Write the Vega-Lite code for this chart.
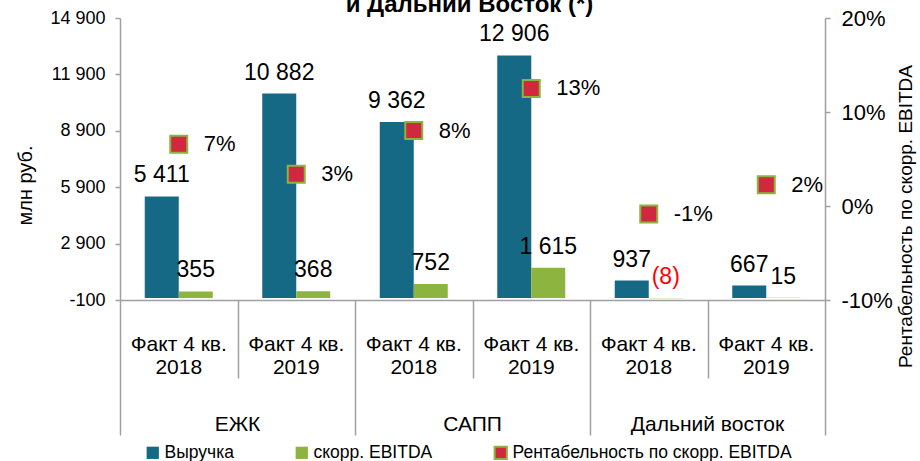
{
  "$schema": "https://vega.github.io/schema/vega-lite/v6.json",
  "autosize": {"type": "none"},
  "padding": {"left": 120, "top": 18, "right": 95, "bottom": 161},
  "width": 705,
  "height": 282,
  "config": {
    "font": "Liberation Sans",
    "view": {"stroke": null},
    "locale": {"number": {"decimal": ",", "thousands": " ", "grouping": [3], "currency": ["", ""], "minus": "-"}},
    "axis": {"grid": false, "domainColor": "#a0a0a0", "tickColor": "#a0a0a0", "labelColor": "black", "titleColor": "black", "titleFontWeight": "normal", "domainWidth": 1.5, "tickWidth": 1.5}
  },
  "datasets": {
    "main": [
      {"key": "ЕЖК 2018", "seg": "ЕЖК", "rev": 5411, "ebitda": 355, "margin": 0.0656},
      {"key": "ЕЖК 2019", "seg": "ЕЖК", "rev": 10882, "ebitda": 368, "margin": 0.0338},
      {"key": "САПП 2018", "seg": "САПП", "rev": 9362, "ebitda": 752, "margin": 0.0803},
      {"key": "САПП 2019", "seg": "САПП", "rev": 12906, "ebitda": 1615, "margin": 0.1251},
      {"key": "ДВ 2018", "seg": "Дальний восток", "rev": 937, "ebitda": -8, "margin": -0.0085},
      {"key": "ДВ 2019", "seg": "Дальний восток", "rev": 667, "ebitda": 15, "margin": 0.0225}
    ],
    "bounds": [{"b": 0}, {"b": 1}, {"b": 2}, {"b": 3}, {"b": 4}, {"b": 5}, {"b": 6}],
    "segs": [{"seg": "ЕЖК"}, {"seg": "САПП"}, {"seg": "Дальний восток"}],
    "heading": [{"pos": 3, "top": 1, "text": "и Дальний Восток (*)"}]
  },
  "layer": [
    {
      "data": {"name": "main"},
      "layer": [
        {
          "transform": [
            {"fold": ["rev", "ebitda"], "as": ["k", "value"]},
            {"calculate": "datum.k === 'rev' ? 'Выручка' : 'скорр. EBITDA'", "as": "series"},
            {"calculate": "datum.value < 0 ? '(' + format(-datum.value, ',') + ')' : format(datum.value, ',')", "as": "lbl"}
          ],
          "layer": [
            {
              "mark": {"type": "bar"},
              "encoding": {
                "x": {"field": "key", "type": "nominal", "sort": null,
                  "scale": {"domain": ["ЕЖК 2018", "ЕЖК 2019", "САПП 2018", "САПП 2019", "ДВ 2018", "ДВ 2019"], "paddingInner": 0, "paddingOuter": 0},
                  "axis": {"orient": "bottom", "title": null, "ticks": false, "tickSize": 0, "domain": true, "labelExpr": "['Факт 4 кв.', slice(datum.label, -4)]", "labelAngle": 0, "labelFontSize": 21, "labelPadding": 33, "labelBaseline": "top", "labelLineHeight": 23, "labelAlign": "center"}},
                "xOffset": {"field": "series", "type": "nominal", "scale": {"domain": ["Выручка", "скорр. EBITDA"], "paddingInner": 0, "paddingOuter": 0.728}},
                "y": {"field": "value", "type": "quantitative",
                  "scale": {"domain": [-100, 14900], "nice": false, "zero": false},
                  "axis": {"orient": "left", "values": [-100, 2900, 5900, 8900, 11900, 14900], "format": ",.0f", "labelFontSize": 18, "tickSize": 5, "labelPadding": 10, "title": "млн руб.", "titleFontSize": 20, "titleX": -95, "titleY": 167, "titleAngle": -90, "titleAlign": "center", "titleBaseline": "middle"}},
                "color": {"field": "series", "type": "nominal",
                  "scale": {"domain": ["Выручка", "скорр. EBITDA", "Рентабельность по скорр. EBITDA"], "range": ["#156985", "#8cb43e", "#d0283f"]},
                  "legend": {"title": null, "orient": "none", "legendX": 24, "legendY": 426, "direction": "horizontal", "symbolType": "square", "symbolSize": 150, "labelFontSize": 17.5, "labelLimit": 0, "labelOffset": 3, "columnPadding": 57, "symbolStrokeWidth": 0,
                    "encode": {"symbols": {"update": {"stroke": {"signal": "datum.value === 'Рентабельность по скорр. EBITDA' ? '#8cb43e' : 'transparent'"}, "strokeWidth": {"value": 2}}}}}}
              }
            },
            {
              "mark": {"type": "text", "fontSize": 23, "dy": -14, "baseline": "alphabetic", "align": "center"},
              "encoding": {
                "x": {"field": "key", "type": "nominal", "sort": null},
                "xOffset": {"field": "series", "type": "nominal"},
                "y": {"field": "value", "type": "quantitative"},
                "text": {"field": "lbl"},
                "color": {"condition": {"test": "datum.value < 0", "value": "#ff0000"}, "value": "black"}
              }
            }
          ]
        },
        {
          "layer": [
            {
              "mark": {"type": "point", "shape": "square", "filled": true, "size": 289, "stroke": "#8cb43e", "strokeWidth": 2, "opacity": 1},
              "encoding": {
                "x": {"field": "key", "type": "nominal", "sort": null},
                "y": {"field": "margin", "type": "quantitative",
                  "scale": {"domain": [-0.1, 0.2], "nice": false, "zero": false},
                  "axis": {"orient": "right", "values": [-0.1, 0, 0.1, 0.2], "format": ".0%", "labelFontSize": 22, "tickSize": 5, "labelPadding": 11, "title": "Рентабельность по скорр. EBITDA", "titleFontSize": 19, "titleX": 80, "titleY": 198, "titleAngle": 270, "titleAlign": "center", "titleBaseline": "middle"}},
                "color": {"datum": "Рентабельность по скорр. EBITDA", "type": "nominal"}
              }
            },
            {
              "mark": {"type": "text", "fontSize": 22, "dx": 25, "align": "left", "baseline": "middle", "color": "black"},
              "encoding": {
                "x": {"field": "key", "type": "nominal", "sort": null},
                "y": {"field": "margin", "type": "quantitative"},
                "text": {"field": "margin", "type": "quantitative", "format": ".0%"}
              }
            }
          ]
        }
      ],
      "resolve": {"scale": {"y": "independent"}}
    },
    {
      "layer": [
        {
          "data": {"name": "bounds"},
          "mark": {"type": "rule", "opacity": 0},
          "encoding": {
            "x": {"field": "b", "type": "quantitative",
              "scale": {"domain": [0, 6], "nice": false, "zero": false},
              "axis": {"orient": "bottom", "title": null, "values": [0, 1, 2, 3, 4, 5, 6], "labels": false, "domain": false, "tickSize": {"condition": {"test": "datum.value % 2 === 0", "value": 135}, "value": 78}}}
          }
        },
        {
          "data": {"name": "heading"},
          "mark": {"type": "text", "fontSize": 24, "fontWeight": "bold", "align": "center", "baseline": "alphabetic", "dy": -6, "dx": -3, "color": "black"},
          "encoding": {
            "x": {"field": "pos", "type": "quantitative"},
            "y": {"field": "top", "type": "quantitative", "scale": {"domain": [0, 1], "nice": false}, "axis": null},
            "text": {"field": "text"}
          }
        }
      ]
    },
    {
      "data": {"name": "segs"},
      "mark": {"type": "rule", "opacity": 0},
      "encoding": {
        "x": {"field": "seg", "type": "nominal", "sort": null,
          "scale": {"type": "band", "domain": ["ЕЖК", "САПП", "Дальний восток"], "paddingInner": 0, "paddingOuter": 0},
          "axis": {"orient": "bottom", "title": null, "ticks": false, "tickSize": 0, "domain": false, "labelAngle": 0, "labelFontSize": 21, "labelPadding": 113, "labelBaseline": "top", "labelAlign": "center"}}
      }
    }
  ],
  "resolve": {"scale": {"x": "independent", "y": "independent"}}
}
